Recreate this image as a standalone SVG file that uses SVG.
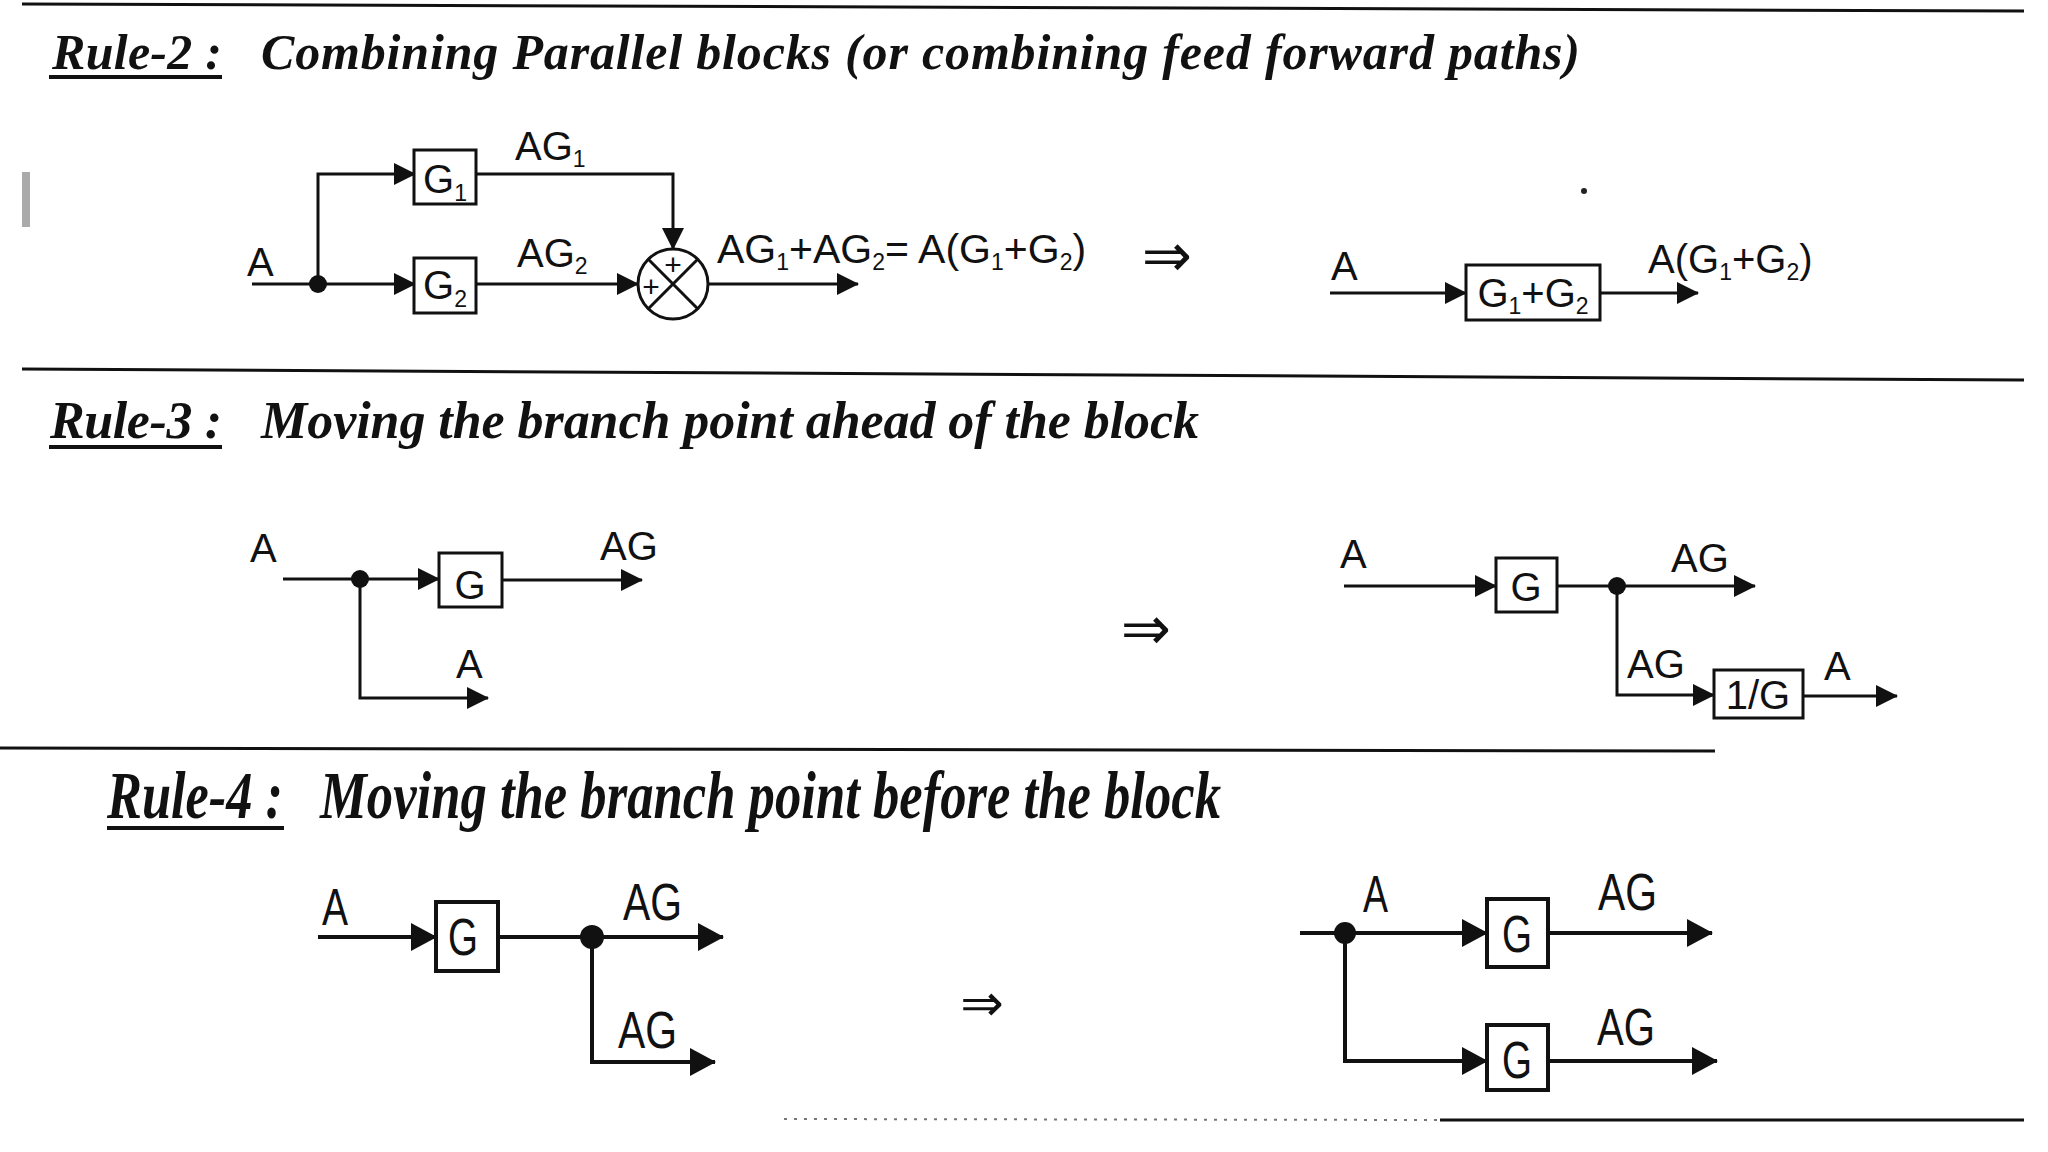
<svg xmlns="http://www.w3.org/2000/svg" width="2048" height="1152" viewBox="0 0 2048 1152">
<defs>
<style>
.ttl{font-family:"Liberation Serif","Times New Roman",serif;font-weight:bold;font-style:italic;font-size:50px;fill:#111}
.lbl{font-family:"Liberation Sans",Arial,sans-serif;font-size:40px;fill:#111}
.lbl4{font-family:"Liberation Sans",Arial,sans-serif;font-size:52px;fill:#111}
.sub{font-size:23px}
.imp{font-family:"DejaVu Sans",sans-serif;font-size:60px;fill:#111}
.box{fill:#fff;stroke:#111;stroke-width:3}
.box4{fill:#fff;stroke:#111;stroke-width:4}
.ln{fill:none;stroke:#111;stroke-width:3}
.ln4{fill:none;stroke:#111;stroke-width:4}
.rule{fill:none;stroke:#111;stroke-width:3}
.ul{stroke:#111;stroke-width:4}
.dot{fill:#111}
</style>
<marker id="ah" viewBox="0 0 22 22" refX="21" refY="11" markerWidth="22" markerHeight="22" markerUnits="userSpaceOnUse" orient="auto">
<path d="M0,0 L22,11 L0,22 z" fill="#111"/>
</marker>
<marker id="ah4" viewBox="0 0 26 28" refX="25" refY="14" markerWidth="26" markerHeight="28" markerUnits="userSpaceOnUse" orient="auto">
<path d="M0,0 L26,14 L0,28 z" fill="#111"/>
</marker>
</defs>
<rect width="2048" height="1152" fill="#fff"/>

<!-- section rules -->
<g id="dividers">
<line class="rule" x1="22" y1="4" x2="2024" y2="11"/>
<line class="rule" x1="22" y1="369" x2="2024" y2="380"/>
<line class="rule" x1="0" y1="748" x2="1715" y2="751"/>
<line x1="784" y1="1119" x2="1440" y2="1120" stroke="#777" stroke-width="2" stroke-dasharray="3 7"/>
<line class="rule" x1="1440" y1="1120" x2="2024" y2="1120"/>
<rect x="22" y="172" width="8" height="55" fill="#aaa"/>
<circle cx="1584" cy="191" r="3" fill="#222"/>
</g>

<!-- titles -->
<g id="titles">
<text class="ttl" x="52" y="69" textLength="170">Rule-2 :</text>
<line class="ul" x1="49" y1="77" x2="222" y2="77"/>
<text class="ttl" x="261" y="69" textLength="1319">Combining Parallel blocks (or combining feed forward paths)</text>
<text class="ttl" x="50" y="438" textLength="172" style="font-size:52px">Rule-3 :</text>
<line class="ul" x1="49" y1="447" x2="222" y2="447"/>
<text class="ttl" x="261" y="438" textLength="938" style="font-size:52px">Moving the branch point ahead of the block</text>
<text class="ttl" x="107" y="818" textLength="176" lengthAdjust="spacingAndGlyphs" style="font-size:68px">Rule-4 :</text>
<line class="ul" x1="107" y1="828" x2="284" y2="828" stroke-width="5"/>
<text class="ttl" x="320" y="818" textLength="901" lengthAdjust="spacingAndGlyphs" style="font-size:68px">Moving the branch point before the block</text>
</g>

<!-- connectors -->
<g id="connectors">
<!-- rule 2 -->
<path class="ln" d="M252,284 H415" marker-end="url(#ah)"/>
<path class="ln" d="M318,284 V174 H415" marker-end="url(#ah)"/>
<path class="ln" d="M476,174 H673 V249" marker-end="url(#ah)"/>
<path class="ln" d="M476,284 H638" marker-end="url(#ah)"/>
<path class="ln" d="M708,284 H858" marker-end="url(#ah)"/>
<path class="ln" d="M1330,293 H1466" marker-end="url(#ah)"/>
<path class="ln" d="M1600,293 H1698" marker-end="url(#ah)"/>
<!-- rule 3 -->
<path class="ln" d="M283,579 H439" marker-end="url(#ah)"/>
<path class="ln" d="M502,580 H642" marker-end="url(#ah)"/>
<path class="ln" d="M360,579 V698 H488" marker-end="url(#ah)"/>
<path class="ln" d="M1344,586 H1496" marker-end="url(#ah)"/>
<path class="ln" d="M1557,586 H1755" marker-end="url(#ah)"/>
<path class="ln" d="M1617,586 V695 H1714" marker-end="url(#ah)"/>
<path class="ln" d="M1803,696 H1897" marker-end="url(#ah)"/>
<!-- rule 4 -->
<path class="ln4" d="M318,937 H436" marker-end="url(#ah4)"/>
<path class="ln4" d="M498,937 H723" stroke-width="5" marker-end="url(#ah4)"/>
<path class="ln4" d="M592,937 V1062 H715" marker-end="url(#ah4)"/>
<path class="ln4" d="M1300,933 H1487" marker-end="url(#ah4)"/>
<path class="ln4" d="M1548,933 H1712" marker-end="url(#ah4)"/>
<path class="ln4" d="M1345,933 V1061 H1487" marker-end="url(#ah4)"/>
<path class="ln4" d="M1548,1061 H1717" marker-end="url(#ah4)"/>
</g>

<!-- branch points -->
<g id="r2-branch"><circle class="dot" cx="318" cy="284" r="9"/></g>
<g id="r3-branch-left"><circle class="dot" cx="360" cy="579" r="9"/></g>
<g id="r3-branch-right"><circle class="dot" cx="1617" cy="586" r="9"/></g>
<g id="r4-branch-left"><circle class="dot" cx="592" cy="937" r="12"/></g>
<g id="r4-branch-right"><circle class="dot" cx="1345" cy="933" r="11"/></g>

<!-- Rule 2 nodes -->
<g id="r2-g1">
<rect class="box" x="414" y="150" width="62" height="54"/>
<text class="lbl" x="445" y="193" text-anchor="middle">G<tspan class="sub" dy="8">1</tspan></text>
</g>
<g id="r2-g2">
<rect class="box" x="414" y="258" width="62" height="55"/>
<text class="lbl" x="445" y="299" text-anchor="middle">G<tspan class="sub" dy="8">2</tspan></text>
</g>
<g id="r2-sum">
<circle class="box" cx="673" cy="284" r="35"/>
<line class="ln" x1="648.3" y1="259.3" x2="697.7" y2="308.7"/>
<line class="ln" x1="697.7" y1="259.3" x2="648.3" y2="308.7"/>
<text class="lbl" x="673" y="275" text-anchor="middle" style="font-size:30px">+</text>
<text class="lbl" x="651" y="297" text-anchor="middle" style="font-size:30px">+</text>
</g>
<g id="r2-labels">
<text class="lbl" x="247" y="276">A</text>
<text class="lbl" x="515" y="160">AG<tspan class="sub" dy="7">1</tspan></text>
<text class="lbl" x="517" y="267">AG<tspan class="sub" dy="7">2</tspan></text>
<text class="lbl" x="717" y="263" style="font-size:41px">AG<tspan class="sub" dy="7">1</tspan><tspan dy="-7">+AG</tspan><tspan class="sub" dy="7">2</tspan><tspan dy="-7">= A(G</tspan><tspan class="sub" dy="7">1</tspan><tspan dy="-7">+G</tspan><tspan class="sub" dy="7">2</tspan><tspan dy="-7">)</tspan></text>
<text class="imp" x="1167" y="276" text-anchor="middle">⇒</text>
<text class="lbl" x="1331" y="280">A</text>
<text class="lbl" x="1648" y="273">A(G<tspan class="sub" dy="7">1</tspan><tspan dy="-7">+G</tspan><tspan class="sub" dy="7">2</tspan><tspan dy="-7">)</tspan></text>
</g>
<g id="r2-g12">
<rect class="box" x="1466" y="265" width="134" height="55"/>
<text class="lbl" x="1533" y="307" text-anchor="middle">G<tspan class="sub" dy="7">1</tspan><tspan dy="-7">+G</tspan><tspan class="sub" dy="7">2</tspan></text>
</g>

<!-- Rule 3 nodes -->
<g id="r3-g-left">
<rect class="box" x="439" y="553" width="63" height="54"/>
<text class="lbl" x="470" y="599" text-anchor="middle">G</text>
</g>
<g id="r3-g-right">
<rect class="box" x="1496" y="558" width="61" height="54"/>
<text class="lbl" x="1526" y="601" text-anchor="middle">G</text>
</g>
<g id="r3-inv">
<rect class="box" x="1714" y="670" width="89" height="48"/>
<text class="lbl" x="1758" y="709" text-anchor="middle">1/G</text>
</g>
<g id="r3-labels">
<text class="lbl" x="250" y="562">A</text>
<text class="lbl" x="600" y="560">AG</text>
<text class="lbl" x="456" y="678">A</text>
<text class="imp" x="1146" y="649" text-anchor="middle">⇒</text>
<text class="lbl" x="1340" y="568">A</text>
<text class="lbl" x="1671" y="572">AG</text>
<text class="lbl" x="1627" y="678">AG</text>
<text class="lbl" x="1824" y="680">A</text>
</g>

<!-- Rule 4 nodes -->
<g id="r4-g-left">
<rect class="box4" x="436" y="902" width="62" height="69"/>
<text class="lbl4" x="448" y="955" textLength="30" lengthAdjust="spacingAndGlyphs">G</text>
</g>
<g id="r4-g-upper">
<rect class="box4" x="1487" y="899" width="61" height="68"/>
<text class="lbl4" x="1502" y="952" textLength="30" lengthAdjust="spacingAndGlyphs">G</text>
</g>
<g id="r4-g-lower">
<rect class="box4" x="1487" y="1025" width="61" height="65"/>
<text class="lbl4" x="1502" y="1078" textLength="30" lengthAdjust="spacingAndGlyphs">G</text>
</g>
<g id="r4-labels">
<text class="lbl4" x="322" y="925" textLength="26" lengthAdjust="spacingAndGlyphs">A</text>
<text class="lbl4" x="623" y="920" textLength="59" lengthAdjust="spacingAndGlyphs">AG</text>
<text class="lbl4" x="618" y="1048" textLength="59" lengthAdjust="spacingAndGlyphs">AG</text>
<text class="imp" x="982" y="1021" text-anchor="middle" style="font-size:52px">⇒</text>
<text class="lbl4" x="1363" y="912" textLength="25" lengthAdjust="spacingAndGlyphs">A</text>
<text class="lbl4" x="1598" y="910" textLength="59" lengthAdjust="spacingAndGlyphs">AG</text>
<text class="lbl4" x="1597" y="1045" textLength="58" lengthAdjust="spacingAndGlyphs">AG</text>
</g>
</svg>
